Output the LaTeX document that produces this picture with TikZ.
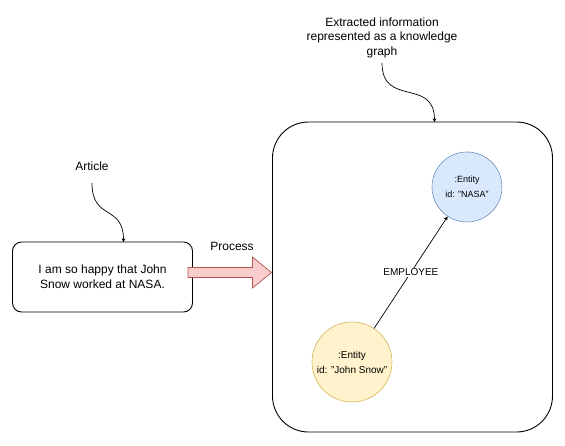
\documentclass[tikz,border=0pt]{standalone}
\usepackage{fontspec}
\setmainfont{Liberation Sans}
\usetikzlibrary{arrows.meta}

\begin{document}
\begin{tikzpicture}[x=1pt, y=-1pt]
    % Estilos
    \tikzset{
        txtbox/.style={
            draw, rectangle, rounded corners=9pt, line width=0.9pt, minimum width=180pt, minimum height=70pt,
            align=center, font=\fontsize{12}{15}\selectfont
        },
        kgbox/.style={
            draw, rectangle, rounded corners=36pt, line width=0.9pt, minimum width=280pt, minimum height=310pt
        },
        lbl/.style={align=center, font=\fontsize{12}{14.5}\selectfont, inner sep=0pt},
        entity/.style={draw, circle, line width=0.6pt, align=center, inner sep=0pt},
        curvearrow/.style={-{Stealth[length=3.5pt, width=3.5pt]}, line width=0.7pt},
        relarrow/.style={-{Stealth[length=4pt, width=4pt]}, line width=0.7pt}
    }
    \definecolor{nasafill}{HTML}{DAE8FC}
    \definecolor{nasaline}{HTML}{6C8EBF}
    \definecolor{johnfill}{HTML}{FFF2CC}
    \definecolor{johnline}{HTML}{D6B656}
    \definecolor{procfill}{HTML}{F8CECC}
    \definecolor{procline}{HTML}{B85450}

    \useasboundingbox (0,0) rectangle (565,445);

    % Bloques principales
    \node[txtbox] (sentence) at (102.5,277) {I am so happy that John\\Snow worked at NASA.};
    \node[kgbox] (graph) at (412.5,277) {};
    \node[lbl] (article) at (92,166.5) {Article};
    \node[lbl] (extracted) at (382,37.5) {Extracted information\\represented as a knowledge\\graph};
    \node[lbl] (process) at (232,246.5) {Process};

    % Entidades
    \node[entity, fill=nasafill, draw=nasaline, minimum size=70pt, font=\fontsize{9}{15}\selectfont] (nasa) at (467,187) {:Entity\\id: "NASA"};
    \node[entity, fill=johnfill, draw=johnline, minimum size=80pt, font=\fontsize{10}{15}\selectfont] (john) at (352,362) {:Entity\\id: "John Snow"};

    % Conexiones
    \coordinate (sentencein) at (123.5,242);
    \coordinate (graphin) at (434.5,122);
    \draw[curvearrow] (article.south) ++(0,12) .. controls +(0,38) and +(0,-38) .. (sentencein);
    \draw[curvearrow] (extracted.south) ++(0,5) .. controls +(0,45) and +(0,-45) .. (graphin);
    \draw[relarrow] (john) -- (nasa) node[midway, fill=white, inner sep=1pt, font=\fontsize{10}{12}\selectfont] {EMPLOYEE};

    % Flecha de proceso
    \draw[fill=procfill, draw=procline, line width=0.7pt]
        (188,267.5) -- (252.5,267.5) -- (252.5,257) -- (271.5,272.5) -- (252.5,288)
        -- (252.5,277.5) -- (188,277.5) -- cycle;
\end{tikzpicture}
\end{document}
